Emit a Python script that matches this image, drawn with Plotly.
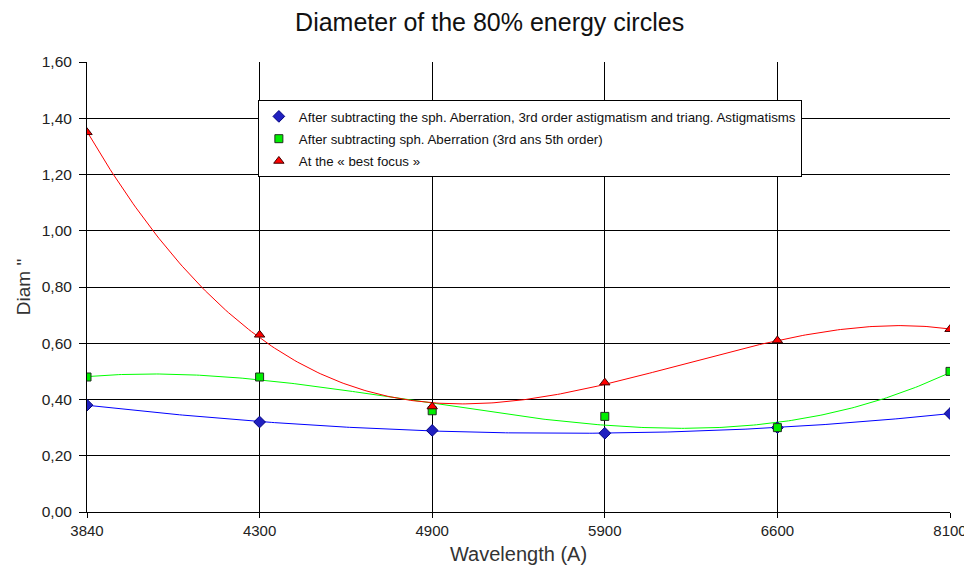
import numpy as np
import plotly.graph_objects as go

wavelengths = ['3840', '4300', '4900', '5900', '6600', '8100']
y_ticks = [0, 0.2, 0.4, 0.6, 0.8, 1.0, 1.2, 1.4, 1.6]

blue_vals = [0.38, 0.32, 0.29, 0.28, 0.30, 0.35]
green_vals = [0.48, 0.48, 0.36, 0.34, 0.30, 0.50]
red_vals = [1.35, 0.63, 0.375, 0.46, 0.61, 0.65]

names = [
    'After subtracting the sph. Aberration, 3rd order astigmatism and triang. Astigmatisms',
    'After subtracting sph. Aberration (3rd ans 5th order)',
    'At the « best focus »',
]

pos = np.arange(len(wavelengths))
dense = np.linspace(0, len(wavelengths) - 1, 300)
TREND_ORDER = 3

series = [
    (blue_vals, names[0], '#0000FF', dict(symbol='diamond', size=9, color='#2020C0', line=dict(color='#000080', width=1))),
    (green_vals, names[1], '#00FF00', dict(symbol='square', size=8, color='#00EE00', line=dict(color='#203020', width=1))),
    (red_vals, names[2], '#FF0000', dict(symbol='triangle-up', size=9, color='#FF0000', line=dict(color='#400000', width=1))),
]

fig = go.Figure()
for vals, name, col, mk in series:
    # polynomial trendline like the spreadsheet one
    coef = np.polyfit(pos, vals, TREND_ORDER)
    fig.add_trace(go.Scatter(x=dense, y=np.polyval(coef, dense), mode='lines',
                             line=dict(color=col, width=1), showlegend=False, hoverinfo='skip'))
for vals, name, col, mk in series:
    fig.add_trace(go.Scatter(x=pos, y=vals, name=name, mode='markers', marker=mk,
                             legendgroup=name))

fig.update_layout(
    width=972, height=566,
    margin=dict(l=79, r=30, t=54, b=62),
    paper_bgcolor='white', plot_bgcolor='white',
    separators=',.',
    font=dict(family='Liberation Sans, Arial', color='#222222'),
    title=dict(text='Diameter of the 80% energy circles', x=0.4955, xanchor='center',
               y=0.974, yanchor='middle', font=dict(size=25, color='#111111')),
    showlegend=True,
    legend=dict(x=0.198, y=0.915, xanchor='left', yanchor='top',
                bgcolor='white', bordercolor='black', borderwidth=1,
                font=dict(size=13.3, color='#111111'), tracegroupgap=2,
                itemsizing='trace', itemwidth=30),
)
fig.update_xaxes(
    range=[0, 5], tickvals=list(pos), ticktext=wavelengths, automargin=False,
    ticklabeloverflow='allow',
    showgrid=True, gridcolor='#000000', gridwidth=1,
    showline=True, linecolor='#000000', linewidth=1,
    ticks='outside', ticklen=5, tickcolor='#000000',
    tickfont=dict(size=15, color='#222222'),
    title=dict(text='Wavelength (A)', font=dict(size=20, color='#333333'), standoff=8),
    zeroline=False,
)
fig.update_yaxes(
    range=[0, 1.6], tickvals=y_ticks, tickformat='.2f', automargin=False,
    showgrid=True, gridcolor='#000000', gridwidth=1,
    showline=True, linecolor='#000000', linewidth=1,
    ticks='outside', ticklen=7, tickcolor='#000000', ticklabelstandoff=4,
    tickfont=dict(size=15.5, color='#222222'),
    title=dict(text='Diam "', font=dict(size=19, color='#333333'), standoff=6),
    zeroline=False,
)

fig.write_html('out.html')
